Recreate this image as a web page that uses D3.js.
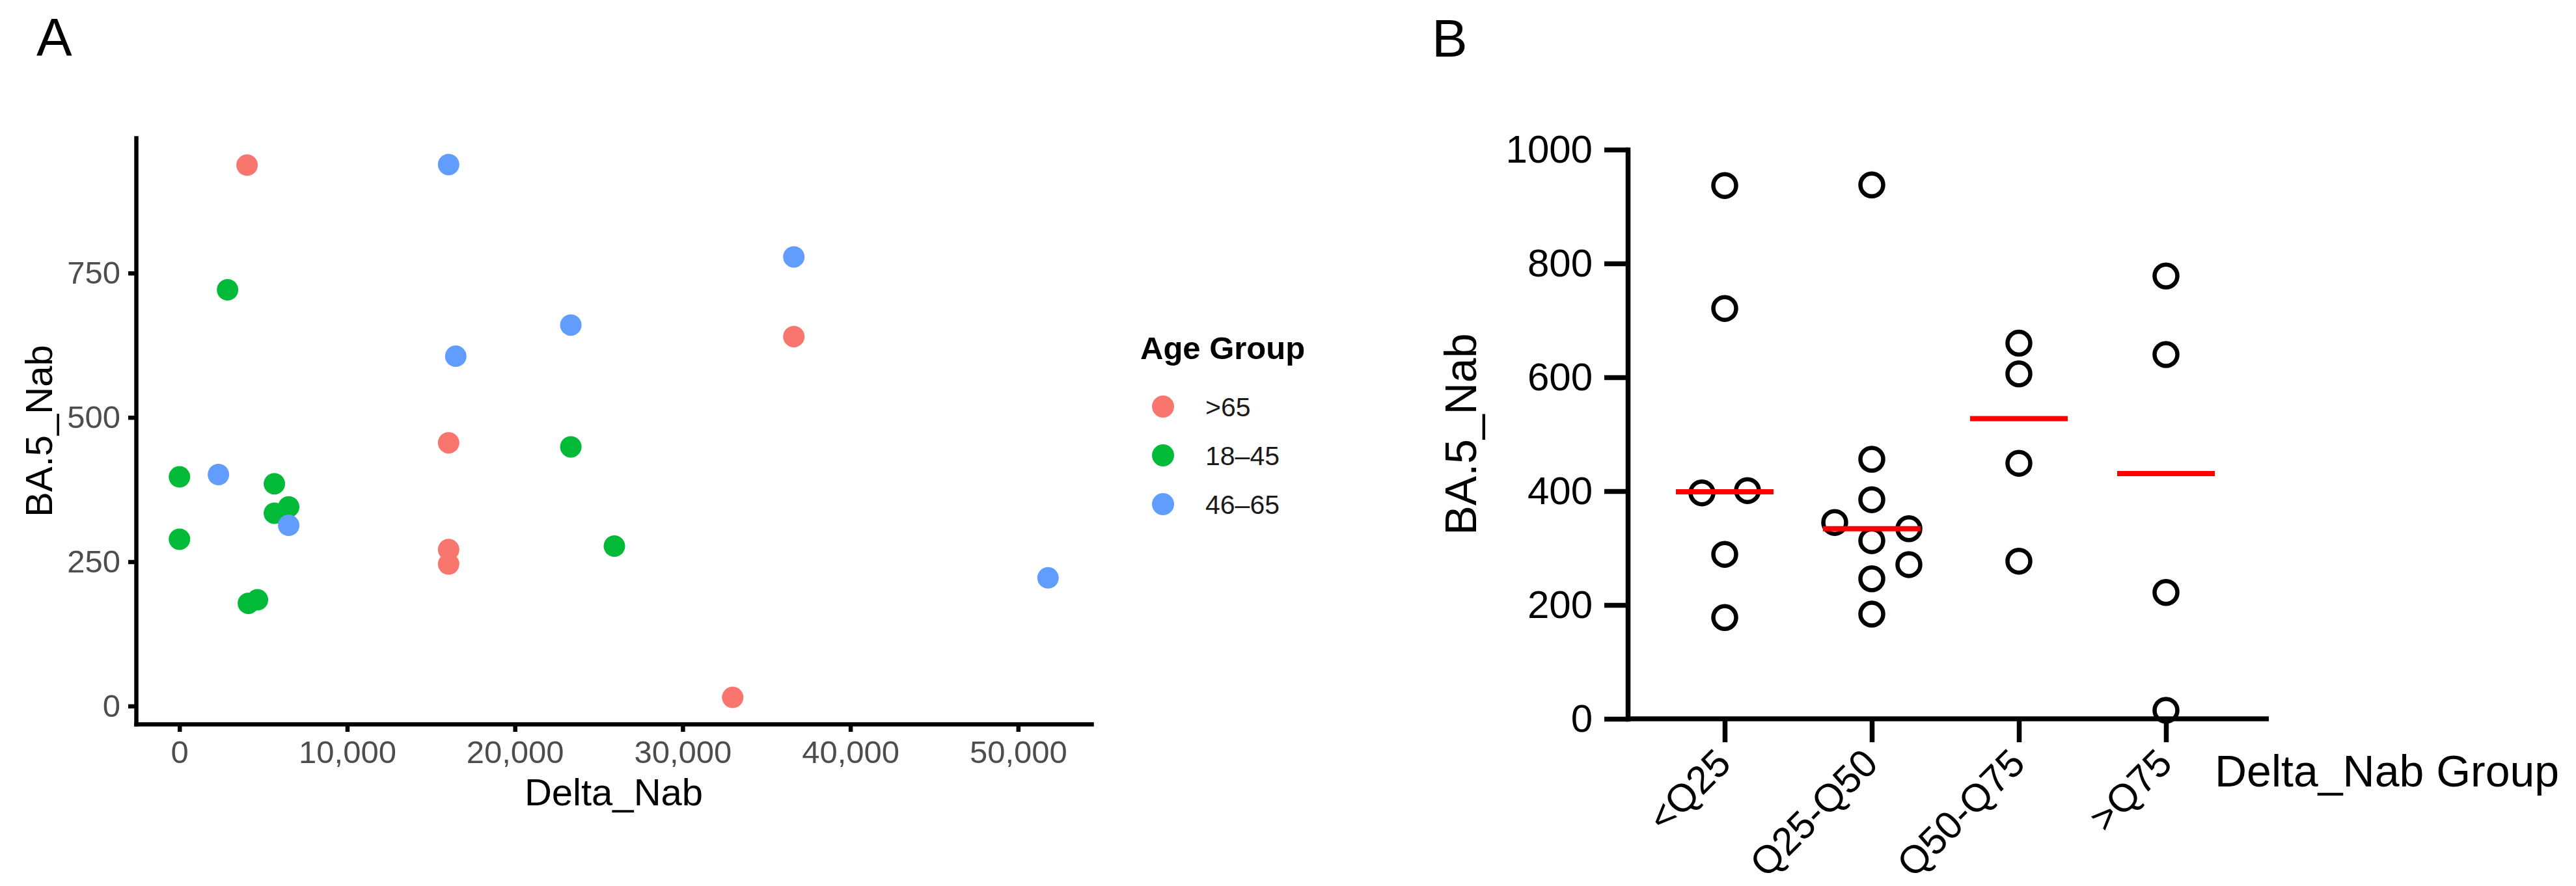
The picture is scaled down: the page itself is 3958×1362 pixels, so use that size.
<!DOCTYPE html>
<html>
<head>
<meta charset="utf-8">
<script src="https://d3js.org/d3.v7.min.js"></script>
<style>
    body { margin: 0; background: #fff; }
    text { font-family: "Liberation Sans", Arial, Helvetica, sans-serif; }
</style>
</head>
<body>
<svg id="fig" width="3958" height="1362"></svg>
<script>
// panel A, one entry per donor (red, then green, then blue so blue ends on top)
const deltaNab = [4031, 16047, 36628, 16047, 16047, 32984,
                  2868, 23333, 0, 5659, 6512, 5659, 0, 4109, 4651, 25930,
                  16047, 23333, 16473, 36628, 2325, 6512, 51783];
const ba5Nab   = [937, 456, 640, 271, 246, 15,
                  721, 449, 397, 385, 345, 334, 289, 178, 184, 277,
                  938, 660, 606, 778, 401, 313, 222];
const ageOf    = [">65", ">65", ">65", ">65", ">65", ">65",
                  "18–45", "18–45", "18–45", "18–45", "18–45", "18–45", "18–45", "18–45", "18–45", "18–45",
                  "46–65", "46–65", "46–65", "46–65", "46–65", "46–65", "46–65"];
const ageGroups = [">65", "18–45", "46–65"];
const xTicksA = [0, 10000, 20000, 30000, 40000, 50000];
const yTicksA = [0, 250, 500, 750];

// panel B, BA.5 values per Delta_Nab quartile group
const nabGroups = ["<Q25", "Q25-Q50", "Q50-Q75", ">Q75"];
const belowQ25 = [937, 721, 401, 397, 289, 178];
const q25to50  = [938, 456, 385, 345, 334, 313, 271, 246, 184];
const q50to75  = [660, 606, 449, 277];
const aboveQ75 = [778, 640, 222, 15];
const yTicksB = [0, 200, 400, 600, 800, 1000];

let svg = d3.select('#fig');
svg.append('rect').attr('width', 3958).attr('height', 1362).attr('fill', '#fff');

function drawPanelA() {
    let xExt = d3.extent(deltaNab), yExt = d3.extent(ba5Nab);
    let xPad = (xExt[1] - xExt[0]) * 0.05, yPad = (yExt[1] - yExt[0]) * 0.05;

    let x = d3.scaleLinear().domain([xExt[0] - xPad, xExt[1] + xPad]).range([209, 1677]);
    let y = d3.scaleLinear().domain([yExt[0] - yPad, yExt[1] + yPad]).range([1113, 212]);
    let color = d3.scaleOrdinal().domain(ageGroups).range(['#F8766D', '#00BA38', '#619CFF']);

    svg.append('text')
        .text('A')
        .attr('x', 56).attr('y', 85)
        .attr('font-size', 82);

    let xAxis = svg.append('g')
        .attr('transform', 'translate(0,1113)')
        .call(d3.axisBottom(x).tickValues(xTicksA).tickFormat(d3.format(','))
            .tickSize(12).tickSizeOuter(0).tickPadding(13));
    let yAxis = svg.append('g')
        .attr('transform', 'translate(209,0)')
        .call(d3.axisLeft(y).tickValues(yTicksA).tickSize(12).tickSizeOuter(0).tickPadding(12));

    [xAxis, yAxis].forEach(function(ax) {
        ax.select('.domain').attr('stroke', '#000').attr('stroke-width', 6.5).attr('stroke-linecap', 'square');
        ax.selectAll('.tick line').attr('stroke', '#000').attr('stroke-width', 6.5);
        ax.selectAll('.tick text').attr('fill', '#4D4D4D').attr('font-size', 49)
            .style('font-family', '"Liberation Sans", Arial, sans-serif');
    });

    svg.append('text')
        .text('Delta_Nab')
        .attr('x', (x.range()[0] + x.range()[1]) / 2).attr('y', 1238)
        .attr('text-anchor', 'middle')
        .attr('font-size', 58);

    svg.append('text')
        .text('BA.5_Nab')
        .attr('transform', 'translate(80,' + (y.range()[0] + y.range()[1]) / 2 + ') rotate(-90)')
        .attr('text-anchor', 'middle')
        .attr('font-size', 58);

    svg.append('g')
        .selectAll('circle')
        .data(deltaNab)
        .join('circle')
        .attr('cx', d => x(d))
        .attr('cy', (d, i) => y(ba5Nab[i]))
        .attr('r', 16.5)
        .attr('fill', (d, i) => color(ageOf[i]));

    // legend
    let legend = svg.append('g');
    legend.append('text')
        .text('Age Group')
        .attr('x', 1752).attr('y', 552)
        .attr('font-size', 49)
        .attr('font-weight', 'bold');

    let keys = legend.selectAll('g.key')
        .data(ageGroups)
        .join('g')
        .classed('key', true)
        .attr('transform', (d, i) => 'translate(1787,' + (625 + i * 75) + ')');
    keys.append('circle').attr('r', 17).attr('fill', d => color(d));
    keys.append('text')
        .text(d => d)
        .attr('x', 65).attr('dy', '0.36em')
        .attr('font-size', 41)
        .attr('fill', '#1a1a1a');
}

// simple column scatter layout, bottom up: near-equal pairs are centred, the rest pushed aside on collision
function swarm(values, yScale, step, pairStep, diam) {
    let pts = values.map(v => ({ v: v, y: yScale(v) })).sort((a, b) => a.v - b.v);
    let placed = [];
    for (let i = 0; i < pts.length; i++) {
        let p = pts[i], next = pts[i + 1];
        if (next && Math.abs(next.y - p.y) < 8) {
            p.dx = -pairStep / 2;
            next.dx = pairStep / 2;
            placed.push(p, next);
            i++;
            continue;
        }
        let offsets = [0, step, -step, 2 * step, -2 * step];
        p.dx = offsets.find(o => placed.every(q => Math.hypot(q.dx - o, q.y - p.y) >= diam));
        if (p.dx === undefined) p.dx = 0;
        placed.push(p);
    }
    return placed;
}

function drawPanelB() {
    let groups = [belowQ25, q25to50, q50to75, aboveQ75];

    let x = d3.scalePoint().domain(nabGroups).range([2650, 3328]);
    let y = d3.scaleLinear().domain([0, 1000]).range([1105, 230]);

    svg.append('text')
        .text('B')
        .attr('x', 2200).attr('y', 87)
        .attr('font-size', 82);

    let yAxis = svg.append('g')
        .attr('transform', 'translate(2501,0)')
        .call(d3.axisLeft(y).tickValues(yTicksB).tickFormat(d3.format('d'))
            .tickSize(36).tickSizeOuter(0).tickPadding(18));

    let xAxis = svg.append('g')
        .attr('transform', 'translate(0,1105)')
        .call(d3.axisBottom(x).tickSize(36).tickSizeOuter(0));
    xAxis.select('.domain').remove();
    xAxis.append('line')
        .attr('x1', 2501).attr('x2', 3486)
        .attr('stroke', '#000').attr('stroke-width', 7.5);

    yAxis.select('.domain').attr('stroke', '#000').attr('stroke-width', 7.5).attr('stroke-linecap', 'square');
    [xAxis, yAxis].forEach(function(ax) {
        ax.selectAll('.tick line').attr('stroke', '#000').attr('stroke-width', 7.5);
        ax.selectAll('.tick text').attr('fill', '#000').attr('font-size', 60)
            .style('font-family', '"Liberation Sans", Arial, sans-serif');
    });
    xAxis.selectAll('.tick text')
        .attr('x', null).attr('y', null).attr('dy', null)
        .attr('text-anchor', 'end')
        .attr('transform', 'translate(12,72) rotate(-45)');

    svg.append('text')
        .text('Delta_Nab Group')
        .attr('x', 3403).attr('y', 1209)
        .attr('font-size', 68);

    svg.append('text')
        .text('BA.5_Nab')
        .attr('transform', 'translate(2268,' + (y.range()[0] + y.range()[1]) / 2 + ') rotate(-90)')
        .attr('text-anchor', 'middle')
        .attr('font-size', 68);

    let cols = svg.append('g')
        .selectAll('g')
        .data(groups)
        .join('g')
        .attr('transform', (d, i) => 'translate(' + x(nabGroups[i]) + ',0)');

    cols.selectAll('circle')
        .data(d => swarm(d, y, 57, 70, 42))
        .join('circle')
        .attr('cx', d => d.dx)
        .attr('cy', d => d.y)
        .attr('r', 17.5)
        .attr('fill', 'none')
        .attr('stroke', '#000')
        .attr('stroke-width', 6.5);

    cols.append('line')
        .attr('x1', -75).attr('x2', 75)
        .attr('y1', d => y(d3.median(d))).attr('y2', d => y(d3.median(d)))
        .attr('stroke', '#FF0000')
        .attr('stroke-width', 8);
}

drawPanelA();
drawPanelB();
</script>
</body>
</html>
